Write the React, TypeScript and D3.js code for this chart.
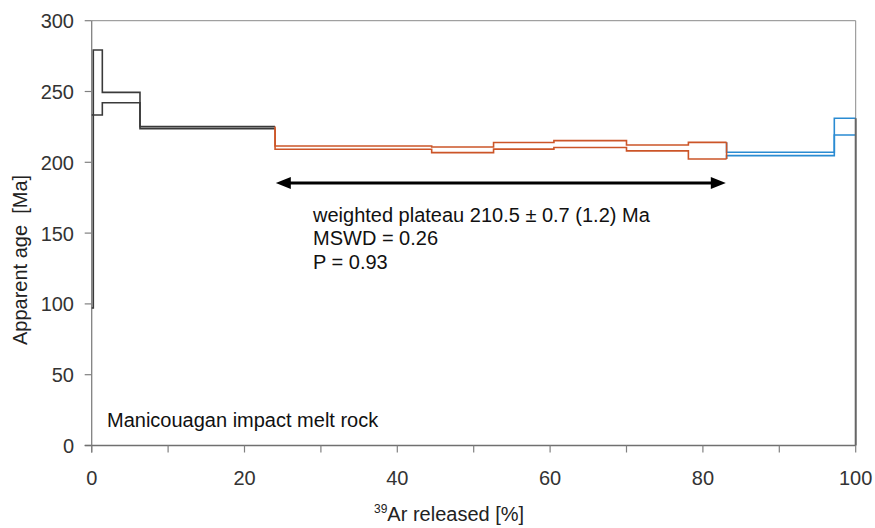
import React from "react";
import * as d3 from "d3";

// cumulative 39Ar released [%] at step boundaries
const stepEdges = [0, 0.21, 1.39, 6.32, 24.0, 44.5, 52.6, 60.5, 70.0, 78.1, 83.1, 97.2, 100];
// apparent age lower / upper bound (Ma) per step
const ageLow = [97.1, 233.4, 242.1, 223.8, 209.2, 206.8, 209.3, 210.5, 208.1, 202.3, 204.7, 219.3];
const ageHigh = [233.4, 279.3, 249.4, 225.2, 211.5, 210.8, 214.0, 215.3, 212.2, 214.1, 207.1, 231.1];
const stepGroup = ["low", "low", "low", "low", "plateau", "plateau", "plateau", "plateau", "plateau", "plateau", "high", "high"];

const groupColors: Record<string, string> = { low: "#3a3a3a", plateau: "#cc5528", high: "#2a8bd2" };
const drawOrder = ["low", "high", "plateau"];

const yTicks = [0, 50, 100, 150, 200, 250, 300];
const xTicks = [0, 10, 20, 30, 40, 50, 60, 70, 80, 90, 100];
const xTickLabels = [0, 20, 40, 60, 80, 100];

const plateauStart = 24.1;
const plateauEnd = 83.0;
const arrowAge = 185.4;
const plateauLines = ["weighted plateau 210.5 ± 0.7 (1.2) Ma", "MSWD = 0.26", "P = 0.93"];
const sampleName = "Manicouagan impact melt rock";

const W = 875, H = 528;
const left = 91.7, right = 855.7, top = 20.7, bottom = 445.5;
const FONT = "'Liberation Sans', Arial, sans-serif";

export default function App() {
  const x = d3.scaleLinear().domain([0, 100]).range([left, right]);
  const y = d3.scaleLinear().domain([0, 300]).range([bottom, top]);
  const line = d3.line<[number, number]>().x((d) => x(d[0])).y((d) => y(d[1]));

  const groupPaths = drawOrder.map((g) => {
    const idx = stepGroup.map((s, i) => (s === g ? i : -1)).filter((i) => i >= 0);
    const s = idx[0];
    const e = idx[idx.length - 1];
    const build = (vals: number[]) => {
      const pts: [number, number][] = [];
      if (s > 0) pts.push([stepEdges[s], vals[s - 1]]);
      idx.forEach((i) => {
        pts.push([stepEdges[i], vals[i]]);
        pts.push([stepEdges[i + 1], vals[i]]);
      });
      return line(pts) as string;
    };
    const closing = g === "plateau" ? line([[stepEdges[e + 1], ageLow[e]], [stepEdges[e + 1], ageHigh[e]]]) : null;
    return { g, upper: build(ageHigh), lower: build(ageLow), closing };
  });

  const ay = y(arrowAge);
  const ax1 = x(plateauStart);
  const ax2 = x(plateauEnd);
  const head = 15;

  return (
    <svg width={W} height={H} style={{ position: "absolute", left: 0, top: 0, background: "#fff" }} fontFamily={FONT}>
      <rect x={0} y={0} width={W} height={H} fill="#fff" />
      {/* frame */}
      <line x1={left} x2={right} y1={top} y2={top} stroke="#8a8a8a" strokeWidth={1} />
      <line x1={right} x2={right} y1={top} y2={bottom} stroke="#8a8a8a" strokeWidth={1} />
      {/* y axis */}
      <line x1={left} x2={left} y1={top} y2={bottom + 7} stroke="#808080" strokeWidth={1.3} />
      {yTicks.map((t) => (
        <g key={"yt" + t}>
          <line x1={left - 7} x2={left} y1={y(t)} y2={y(t)} stroke="#808080" strokeWidth={1.2} />
          <text x={74} y={y(t) + 7.5} textAnchor="end" fontSize={20} fill="#333">{t}</text>
        </g>
      ))}
      {/* x axis */}
      <line x1={left - 7} x2={right} y1={bottom} y2={bottom} stroke="#707070" strokeWidth={1.3} />
      {xTicks.map((t) => (
        <line key={"xt" + t} x1={x(t)} x2={x(t)} y1={bottom} y2={bottom + 7} stroke="#808080" strokeWidth={1.2} />
      ))}
      {xTickLabels.map((t) => (
        <text key={"xl" + t} x={x(t)} y={485} textAnchor="middle" fontSize={20} fill="#333">{t}</text>
      ))}
      {/* axis titles */}
      <text x={374} y={521} fontSize={20} fill="#222">
        <tspan fontSize={12} dy={-8}>39</tspan>
        <tspan dy={8}>Ar released [%]</tspan>
      </text>
      <text transform={`translate(27,345) rotate(-90)`} fontSize={20} fill="#222" style={{ whiteSpace: "pre" }}>
        {"Apparent age  [Ma]"}
      </text>
      {/* steps */}
      {groupPaths.map((p) => (
        <g key={p.g} fill="none" stroke={groupColors[p.g]} strokeWidth={1.6}>
          <path d={p.upper} />
          <path d={p.lower} />
          {p.closing && <path d={p.closing} />}
        </g>
      ))}
      <line x1={x(100)} x2={x(100)} y1={y(ageHigh[ageHigh.length - 1])} y2={bottom} stroke="#666" strokeWidth={2} />
      {/* plateau arrow */}
      <line x1={ax1 + head - 2} x2={ax2 - head + 2} y1={ay} y2={ay} stroke="#000" strokeWidth={3} />
      <polygon points={`${ax1},${ay} ${ax1 + head},${ay - 6} ${ax1 + head},${ay + 6}`} fill="#000" />
      <polygon points={`${ax2},${ay} ${ax2 - head},${ay - 6} ${ax2 - head},${ay + 6}`} fill="#000" />
      {plateauLines.map((t, i) => (
        <text key={t} x={313} y={222 + i * 23.3} fontSize={20} fill="#111">{t}</text>
      ))}
      <text x={107} y={426.5} fontSize={20} fill="#111">{sampleName}</text>
    </svg>
  );
}
